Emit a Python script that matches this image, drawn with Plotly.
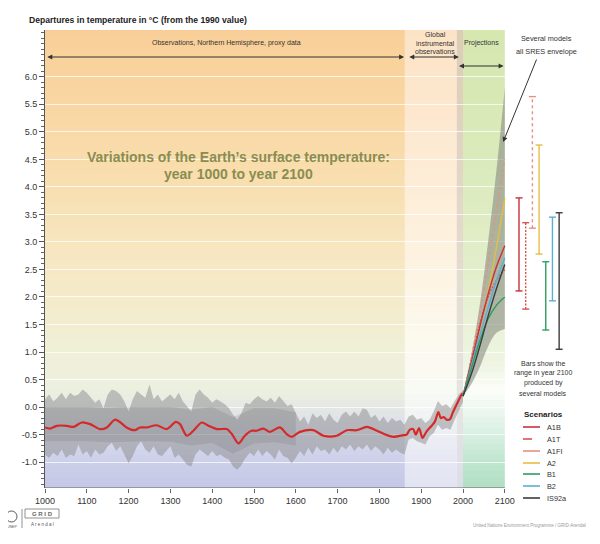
import plotly.graph_objects as go

# ---------------- data ----------------
band_years = list(range(1000, 2001, 10))
band_upper = [0.14, 0.23, 0.10, 0.17, 0.26, 0.14, 0.26, 0.20, 0.23, 0.32,
              0.26, 0.17, 0.08, 0.14, -0.02, 0.23, 0.32, 0.29, 0.23, 0.10,
              -0.08, 0.14, 0.29, 0.23, 0.17, 0.41, 0.14, 0.23, 0.10, 0.17,
              0.23, 0.14, 0.26, 0.10, 0.02, -0.08, 0.23, 0.32, 0.23, 0.17,
              0.08, 0.14, 0.10, 0.05, -0.02, -0.14, -0.23, -0.11, 0.08, 0.05,
              0.14, 0.20, 0.14, 0.10, 0.17, 0.08, 0.20, 0.10, 0.02, 0.05,
              -0.11, -0.26, -0.17, -0.32, -0.11, -0.20, -0.14, -0.26, -0.11, -0.23,
              -0.29, -0.14, -0.08, -0.17, -0.08, -0.17, -0.02, -0.05, -0.20, -0.14,
              -0.26, -0.17, -0.29, -0.20, -0.26, -0.23, -0.32, -0.17, -0.14, -0.23,
              -0.20, -0.29, -0.23, -0.08, 0.11, 0.02, 0.05, -0.02, 0.11, 0.23, 0.30]
band_lower = [-0.86, -0.92, -0.83, -0.89, -0.77, -0.92, -0.86, -0.89, -0.68, -0.86,
              -0.80, -0.92, -0.77, -0.86, -0.83, -0.71, -0.65, -0.80, -0.71, -0.86,
              -1.02, -0.89, -0.71, -0.62, -0.77, -0.83, -0.71, -0.86, -0.89, -0.80,
              -0.71, -0.92, -0.86, -0.95, -1.05, -1.08, -0.86, -0.77, -0.83, -0.89,
              -0.80, -0.89, -0.86, -0.92, -0.95, -1.08, -1.14, -1.05, -0.92, -0.83,
              -0.89, -0.77, -0.89, -0.80, -0.86, -0.95, -0.77, -0.89, -0.92, -1.02,
              -0.92, -0.80, -0.89, -0.74, -0.86, -0.71, -0.80, -0.77, -0.86, -0.74,
              -0.83, -0.71, -0.77, -0.68, -0.80, -0.71, -0.77, -0.68, -0.80, -0.71,
              -0.77, -0.86, -0.74, -0.83, -0.77, -0.83, -0.86, -0.59, -0.56, -0.62,
              -0.65, -0.68, -0.53, -0.47, -0.32, -0.41, -0.38, -0.41, -0.23, -0.08, 0.10]

core_years = [1000, 1050, 1100, 1150, 1200, 1250, 1300, 1350, 1400, 1450, 1500, 1550, 1600]
core_upper = [0.0, 0.0, 0.0, -0.02, 0.0, 0.0, 0.0, -0.05, 0.0, -0.18, -0.02, -0.02, -0.10]
core_lower = [-0.62, -0.62, -0.62, -0.64, -0.63, -0.62, -0.63, -0.70, -0.65, -0.85, -0.66, -0.64, -0.70]

red_years = [1000, 1012, 1028, 1052, 1068, 1088, 1108, 1132, 1148, 1167, 1179, 1195,
             1215, 1227, 1243, 1267, 1291, 1313, 1323, 1339, 1355, 1375, 1391, 1411,
             1435, 1447, 1463, 1478, 1494, 1506, 1522, 1538, 1562, 1578, 1590, 1610,
             1642, 1666, 1698, 1722, 1746, 1770, 1794, 1818, 1834, 1857, 1865, 1873,
             1881, 1887, 1895, 1903, 1913, 1925, 1933, 1941, 1947, 1954, 1961, 1969,
             1975, 1985, 1997, 2000]
red_values = [-0.37, -0.39, -0.34, -0.34, -0.36, -0.28, -0.31, -0.40, -0.37, -0.23, -0.27, -0.37,
              -0.42, -0.37, -0.37, -0.33, -0.40, -0.27, -0.31, -0.52, -0.43, -0.28, -0.34, -0.40,
              -0.40, -0.49, -0.66, -0.52, -0.43, -0.43, -0.39, -0.45, -0.37, -0.49, -0.54, -0.45,
              -0.42, -0.52, -0.52, -0.42, -0.42, -0.36, -0.43, -0.51, -0.54, -0.51, -0.50, -0.41,
              -0.40, -0.50, -0.38, -0.56, -0.44, -0.34, -0.26, -0.09, -0.20, -0.18, -0.23, -0.22,
              -0.11, 0.05, 0.23, 0.25]

proj_years = [2000, 2020, 2040, 2060, 2080, 2100]
env_upper = [0.23, 0.95, 1.85, 3.00, 4.30, 5.80]
env_lower = [0.20, 0.42, 0.72, 1.10, 1.35, 1.42]

scenarios = ["A1B", "A1T", "A1FI", "A2", "B1", "B2", "IS92a"]
proj_A1B = [0.20, 0.80, 1.45, 2.05, 2.55, 2.93]
proj_A1T = [0.20, 0.85, 1.50, 2.00, 2.30, 2.50]
proj_A1FI = [0.20, 0.90, 1.70, 2.60, 3.55, 4.50]
proj_A2 = [0.20, 0.75, 1.40, 2.10, 2.90, 3.80]
proj_B1 = [0.20, 0.70, 1.20, 1.60, 1.85, 2.00]
proj_B2 = [0.20, 0.75, 1.30, 1.80, 2.30, 2.71]
proj_IS92a = [0.20, 0.60, 1.10, 1.65, 2.15, 2.59]

range2100_low = [2.11, 1.78, 3.25, 2.78, 1.40, 1.93, 1.05]
range2100_high = [3.80, 3.35, 5.64, 4.76, 2.64, 3.45, 3.53]

x_tick_vals = list(range(1000, 2101, 100))
y_tick_vals = [-1.0, -0.5, 0.0, 0.5, 1.0, 1.5, 2.0, 2.5, 3.0, 3.5, 4.0, 4.5, 5.0, 5.5, 6.0]
y_tick_text = ["%.1f" % v for v in y_tick_vals]

# ---------------- layout geometry / styles ----------------
# the page body adds an 8px margin; the figure is sized/offset to compensate
OFF = 8
W, H = 584, 528
L, R, T, B = 37, 0, 22, 48
PXY = 0.418  # px per year
X0 = 1000
X1 = X0 + (W - L - R) / PXY
Y0, Y1 = -1.47, 6.85
FONT = "Liberation Sans, Arial, sans-serif"


def paper_x(px):
    return (px - OFF - L) / (W - L - R)


def paper_y(py):
    return (H - B - (py - OFF)) / (H - T - B)


def val_at_px(py):
    return Y1 - (py - OFF - T) * (Y1 - Y0) / (H - T - B)


styles = {
    "A1B": ("#C8323C", "solid"),
    "A1T": ("#D9534F", "2px,1.5px"),
    "A1FI": ("#E58F86", "dot"),
    "A2": ("#E5BE45", "solid"),
    "B1": ("#2E9E5E", "solid"),
    "B2": ("#5BAED6", "solid"),
    "IS92a": ("#3C3C3C", "solid"),
}
proj_series = {"A1B": proj_A1B, "A1T": proj_A1T, "A1FI": proj_A1FI, "A2": proj_A2,
               "B1": proj_B1, "B2": proj_B2, "IS92a": proj_IS92a}

# background gradient colour stops per region (value -> rgb)
regions = [
    (1000, 1861, [(-1.47, (196, 200, 230)), (-1.0, (204, 207, 233)), (-0.4, (219, 222, 236)),
                  (0.3, (236, 240, 224)), (1.0, (240, 240, 215)), (2.5, (246, 232, 196)),
                  (4.5, (249, 220, 172)), (6.85, (249, 207, 152))]),
    (1861, 1985, [(-1.47, (226, 228, 243)), (-1.0, (230, 231, 243)), (0.3, (248, 250, 245)),
                  (1.0, (252, 250, 240)), (2.5, (253, 243, 226)), (4.5, (253, 235, 212)),
                  (6.85, (252, 227, 198))]),
    (1985, 2000, [(-1.47, (220, 221, 232)), (0.0, (230, 229, 226)), (3.0, (228, 218, 204)),
                  (6.85, (221, 204, 182))]),
    (2000, 2100, [(-1.47, (178, 222, 196)), (-1.0, (192, 229, 207)), (-0.3, (226, 243, 233)),
                  (0.3, (252, 253, 249)), (0.8, (238, 245, 226)), (2.5, (226, 238, 202)),
                  (4.5, (219, 234, 187)), (6.85, (214, 231, 176))]),
]


def interp(stops, v):
    if v <= stops[0][0]:
        return stops[0][1]
    for (a, ca), (b, cb) in zip(stops, stops[1:]):
        if a <= v <= b:
            t = (v - a) / (b - a)
            return tuple(int(round(ca[i] + (cb[i] - ca[i]) * t)) for i in range(3))
    return stops[-1][1]


shapes = []
step = 0.1
n = int((Y1 - Y0) / step) + 1
for x0, x1, stops in regions:
    for i in range(n):
        lo = Y0 + i * step
        hi = min(lo + step * 1.15, Y1)
        c = interp(stops, lo + step / 2)
        shapes.append(dict(type="rect", xref="x", yref="y", x0=x0, x1=x1, y0=lo, y1=hi,
                           fillcolor="rgb(%d,%d,%d)" % c, line=dict(width=0), layer="below"))

# bottom axis line only under the chart region
shapes.append(dict(type="line", xref="x", yref="y", x0=1000, x1=2100, y0=Y0, y1=Y0,
                   line=dict(color="#666", width=1.2)))

fig = go.Figure()

# historic noisy envelope
fig.add_trace(go.Scatter(x=band_years, y=band_upper, mode="lines", line=dict(width=0),
                         hoverinfo="skip", showlegend=False))
fig.add_trace(go.Scatter(x=band_years, y=band_lower, mode="lines", line=dict(width=0),
                         fill="tonexty", fillcolor="rgba(140,140,140,0.5)",
                         hoverinfo="skip", showlegend=False))
# darker core
fig.add_trace(go.Scatter(x=core_years, y=core_upper, mode="lines", line=dict(width=0),
                         hoverinfo="skip", showlegend=False))
fig.add_trace(go.Scatter(x=core_years, y=core_lower, mode="lines", line=dict(width=0),
                         fill="tonexty", fillcolor="rgba(110,110,115,0.2)",
                         hoverinfo="skip", showlegend=False))

# projection envelope
fig.add_trace(go.Scatter(x=proj_years, y=env_upper, mode="lines", line=dict(width=0, shape="spline"),
                         hoverinfo="skip", showlegend=False))
fig.add_trace(go.Scatter(x=proj_years, y=env_lower, mode="lines", line=dict(width=0, shape="spline"),
                         fill="tonexty", fillcolor="rgba(128,131,124,0.55)",
                         hoverinfo="skip", showlegend=False))

# historic red line
fig.add_trace(go.Scatter(x=red_years, y=red_values, mode="lines",
                         line=dict(color="#D42A2A", width=2.2, shape="spline", smoothing=0.8),
                         showlegend=False))

# projection lines
for name in ["A1FI", "A2", "A1T", "A1B", "B2", "B1", "IS92a"]:
    col, dash = styles[name]
    fig.add_trace(go.Scatter(x=proj_years, y=proj_series[name], mode="lines", name=name,
                             line=dict(color=col, width=1.4, dash=dash, shape="spline"),
                             showlegend=False))

# range bars in year 2100
for i, name in enumerate(scenarios):
    col, dash = styles[name]
    bx = 2134 + 16 * i
    fig.add_trace(go.Scatter(x=[bx, bx], y=[range2100_low[i], range2100_high[i]],
                             mode="lines+markers", name=name,
                             line=dict(color=col, width=1.4, dash=dash),
                             marker=dict(symbol="line-ew", size=5,
                                         line=dict(color=col, width=1.4)),
                             showlegend=False, cliponaxis=False))

ann = []


def text(px, py, s, size=7, color="#333", bold=False, xanchor="center"):
    if bold:
        s = "<b>%s</b>" % s
    ann.append(dict(xref="paper", yref="paper", x=paper_x(px), y=paper_y(py), text=s,
                    showarrow=False, xanchor=xanchor, yanchor="middle",
                    font=dict(size=size, color=color, family=FONT)))


text(27, 20, "Departures in temperature in °C (from the 1990 value)", size=8.6, color="#222",
     bold=True, xanchor="left")
text(226, 43, "Observations, Northern Hemisphere, proxy data", size=7)
text(435, 35, "Global", size=7)
text(435, 43, "instrumental", size=7)
text(435, 51, "observations", size=7)
text(481, 43, "Projections", size=7)
text(546, 38, "Several models", size=7.3)
text(546, 51, "all SRES envelope", size=7.3)
text(238, 157, "Variations of the Earth\u2019s surface temperature:", size=14, color="#8A8D4E", bold=True)
text(238, 174, "year 1000 to year 2100", size=14, color="#8A8D4E", bold=True)
text(543, 363, "Bars show the", size=7)
text(543, 373, "range in year 2100", size=7)
text(543, 383, "produced by", size=7)
text(543, 393, "several models", size=7)
text(543, 414, "Scenarios", size=8, color="#222", bold=True)
legend_y = [427, 439, 451, 463, 474, 486, 498]
for name, ly in zip(scenarios, legend_y):
    col, dash = styles[name]
    shapes.append(dict(type="line", xref="paper", yref="paper", x0=paper_x(523), x1=paper_x(540),
                       y0=paper_y(ly), y1=paper_y(ly),
                       line=dict(color=col, width=1.6, dash="dash" if name == "A1T" else "solid")))
    text(545, ly, name, size=7.3, xanchor="left")

# footer
text(588, 525, "United Nations Environment Programme / GRID-Arendal", size=4.5, color="#999",
     xanchor="right")
shapes.append(dict(type="circle", xref="paper", yref="paper", x0=paper_x(6), x1=paper_x(17),
                   y0=paper_y(511), y1=paper_y(522), line=dict(color="#555", width=1)))
text(11.5, 527, "UNEP", size=3.5, color="#555")
shapes.append(dict(type="line", xref="paper", yref="paper", x0=paper_x(22), x1=paper_x(22),
                   y0=paper_y(509), y1=paper_y(528), line=dict(color="#777", width=0.8)))
shapes.append(dict(type="rect", xref="paper", yref="paper", x0=paper_x(25), x1=paper_x(59),
                   y0=paper_y(509), y1=paper_y(518), line=dict(color="#777", width=0.8)))
text(42, 513.5, "G R I D", size=6, color="#666", bold=True)
text(42, 524, "A r e n d a l", size=4.5, color="#555")

# top double arrows
for xa, xb, py in [(1002, 1859, 57), (1868, 1990, 57), (1987, 2097, 66)]:
    v = val_at_px(py)
    ann.append(dict(xref="x", yref="y", axref="x", ayref="y", x=xb, y=v, ax=xa, ay=v,
                    text="", showarrow=True, arrowside="end+start", arrowhead=2,
                    arrowsize=0.9, arrowwidth=1.1, arrowcolor="#333"))
# SRES envelope pointer
ann.append(dict(xref="x", yref="y", x=2096, y=val_at_px(142), ax=34, ay=-84, text="",
                showarrow=True, arrowhead=2, arrowsize=1, arrowwidth=1, arrowcolor="#333"))

fig.update_layout(
    width=W, height=H,
    margin=dict(l=L, r=R, t=T, b=B, pad=0),
    paper_bgcolor="white", plot_bgcolor="white",
    font=dict(family=FONT, size=9, color="#333"),
    showlegend=False,
    shapes=shapes, annotations=ann,
    xaxis=dict(range=[X0, X1], tickmode="array", tickvals=x_tick_vals,
               ticks="outside", ticklen=4, tickcolor="#666", showgrid=False, zeroline=False,
               showline=False, tickfont=dict(size=9, color="#333", family=FONT), fixedrange=True),
    yaxis=dict(range=[Y0, Y1], tickmode="array", tickvals=y_tick_vals, ticktext=y_tick_text,
               ticks="outside", ticklen=5, tickcolor="#555", showline=True, linecolor="#555",
               linewidth=1, showgrid=True, gridcolor="rgba(255,255,255,0.75)", gridwidth=1,
               zeroline=False, tickfont=dict(size=9, color="#333", family=FONT),
               minor=dict(tickmode="linear", tick0=0, dtick=0.1, ticks="outside", ticklen=3,
                          tickcolor="#666", showgrid=False),
               fixedrange=True),
)

fig.write_html("out.html")
